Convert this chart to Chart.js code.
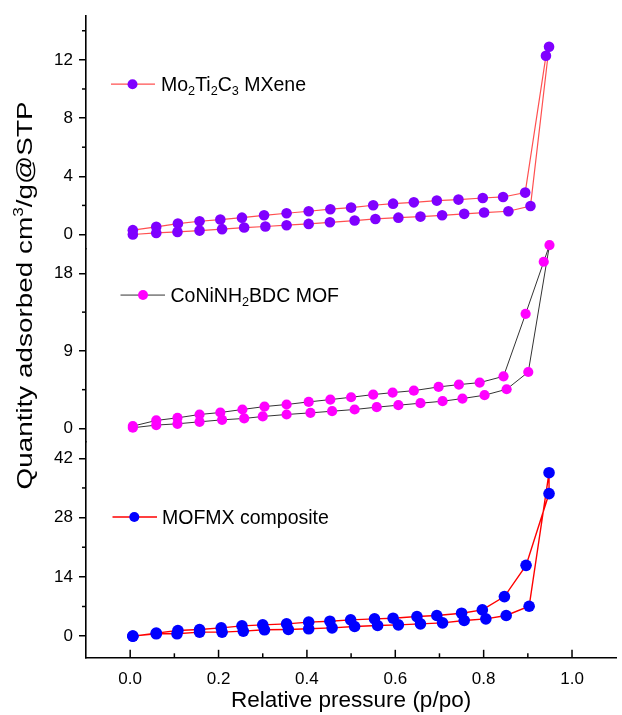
<!DOCTYPE html>
<html>
<head>
<meta charset="utf-8">
<style>
html,body{margin:0;padding:0;background:#fff;}
canvas{display:block;}
</style>
<script src="https://cdn.jsdelivr.net/npm/chart.js@4.4.1/dist/chart.umd.min.js"></script>
</head>
<body>
<canvas id="c" width="622" height="715"></canvas>
<script>
// ---------- DATA ----------
// Mo2Ti2C3 MXene (top panel)
const mxeneAdsX = [0.006, 0.059, 0.107, 0.157, 0.208, 0.258, 0.306, 0.354, 0.404, 0.452, 0.508, 0.555, 0.607, 0.657, 0.706, 0.756, 0.801, 0.856, 0.906, 0.948];
const mxeneAdsY = [0.00, 0.11, 0.18, 0.27, 0.37, 0.48, 0.55, 0.64, 0.73, 0.84, 0.96, 1.07, 1.16, 1.23, 1.32, 1.42, 1.51, 1.60, 1.96, 12.90];
const mxeneDesX = [0.941, 0.894, 0.844, 0.798, 0.743, 0.694, 0.642, 0.595, 0.550, 0.500, 0.453, 0.404, 0.354, 0.303, 0.253, 0.204, 0.157, 0.108, 0.059, 0.006];
const mxeneDesY = [12.28, 2.88, 2.58, 2.51, 2.40, 2.33, 2.21, 2.12, 2.01, 1.85, 1.74, 1.60, 1.46, 1.32, 1.16, 1.03, 0.91, 0.75, 0.53, 0.30];

// CoNiNH2BDC MOF (middle panel)
const mofAdsX = [0.006, 0.059, 0.107, 0.157, 0.208, 0.258, 0.300, 0.354, 0.408, 0.457, 0.508, 0.558, 0.607, 0.657, 0.707, 0.752, 0.802, 0.852, 0.901, 0.949];
const mofAdsY = [0.08, 0.39, 0.54, 0.77, 1.00, 1.16, 1.39, 1.62, 1.81, 2.00, 2.20, 2.47, 2.70, 2.93, 3.16, 3.47, 3.86, 4.55, 6.55, 21.28];
const mofDesX = [0.936, 0.895, 0.845, 0.791, 0.744, 0.698, 0.642, 0.594, 0.550, 0.500, 0.453, 0.404, 0.354, 0.304, 0.254, 0.204, 0.157, 0.107, 0.059, 0.006];
const mofDesY = [19.35, 13.30, 6.05, 5.32, 5.09, 4.82, 4.39, 4.16, 3.93, 3.62, 3.35, 3.08, 2.78, 2.54, 2.20, 1.85, 1.62, 1.23, 0.93, 0.27];

// MOFMX composite (bottom panel)
const compAdsX = [0.006, 0.059, 0.106, 0.157, 0.208, 0.256, 0.304, 0.358, 0.404, 0.457, 0.508, 0.560, 0.607, 0.657, 0.707, 0.756, 0.805, 0.851, 0.903, 0.948];
const compAdsY = [0.00, 0.55, 0.55, 0.94, 0.94, 1.18, 1.49, 1.57, 1.73, 1.96, 2.28, 2.51, 2.67, 2.90, 3.14, 3.69, 4.08, 4.87, 7.06, 38.60];
const compDesX = [0.948, 0.896, 0.847, 0.797, 0.750, 0.694, 0.649, 0.595, 0.553, 0.499, 0.452, 0.404, 0.354, 0.300, 0.253, 0.206, 0.157, 0.108, 0.059, 0.006];
const compDesY = [33.67, 16.72, 9.34, 6.20, 5.42, 4.87, 4.63, 4.24, 4.08, 3.85, 3.53, 3.30, 2.90, 2.67, 2.43, 1.96, 1.57, 1.33, 0.71, 0.00];

// tick labels
const xMajor = [0, 0.2, 0.4, 0.6, 0.8, 1.0];
const xMinor = [0.1, 0.3, 0.5, 0.7, 0.9];
const y1Major = [0, 4, 8, 12];
const y1Minor = [2, 6, 10, 14];
const y2Major = [0, 9, 18];
const y2Minor = [4.5, 13.5];
const y3Major = [0, 14, 28, 42];
const y3Minor = [7, 21, 35];

// ---------- HELPERS ----------
const FONT = "'Liberation Sans', Arial, sans-serif";
function loop(ax, ay, dx, dy) {
  const pts = [];
  ax.forEach((x, i) => pts.push({x: x, y: ay[i]}));
  dx.forEach((x, i) => pts.push({x: x, y: dy[i]}));
  return pts;
}

function yScale(min, max, weight, major) {
  return {
    type: 'linear', position: 'left', stack: 'panels', stackWeight: weight,
    min: min, max: max,
    grid: {display: true, drawOnChartArea: false, drawTicks: true, tickLength: 7, color: '#000', lineWidth: 1.5},
    border: {display: true, color: '#000', width: 1.6},
    ticks: {font: {family: FONT, size: 17}, color: '#000', padding: 6, autoSkip: false, callback: v => String(v)},
    afterBuildTicks: s => { s.ticks = major.map(v => ({value: v})); },
    afterFit: s => { s.width = 86; }
  };
}

const legendItems = [
  {scale: 'y1', parts: [['Mo',0],['2',1],['Ti',0],['2',1],['C',0],['3',1],[' MXene',0]],
   line: '#ff5050', lw: 1.2, marker: '#7f00ff', x0: 25, x1: 69, mx: 46.5, tx: 75, dy: 68},
  {scale: 'y2', parts: [['CoNiNH',0],['2',1],['BDC MOF',0]],
   line: '#333333', lw: 1, marker: '#ff00ff', x0: 34.5, x1: 79, mx: 57, tx: 84.5, dy: 46},
  {scale: 'y3', parts: [['MOFMX composite',0]],
   line: '#ff0000', lw: 1.4, marker: '#0000ff', x0: 26.5, x1: 71, mx: 48.3, tx: 76, dy: 75.7}
];

const decorPlugin = {
  id: 'decor',
  afterDraw(chart) {
    const ctx = chart.ctx;
    ctx.save();
    // minor ticks on y axes (outward)
    ctx.strokeStyle = '#000';
    ctx.lineWidth = 1.5;
    [['y1', y1Minor], ['y2', y2Minor], ['y3', y3Minor]].forEach(([id, vals]) => {
      const s = chart.scales[id];
      vals.forEach(v => {
        const y = s.getPixelForValue(v);
        ctx.beginPath(); ctx.moveTo(s.right, y); ctx.lineTo(s.right - 4, y); ctx.stroke();
      });
    });
    // x ticks (inward)
    const xs = chart.scales.x;
    const yb = xs.top;
    xMajor.forEach(v => {
      const x = xs.getPixelForValue(v);
      ctx.beginPath(); ctx.moveTo(x, yb); ctx.lineTo(x, yb - 7.5); ctx.stroke();
    });
    xMinor.forEach(v => {
      const x = xs.getPixelForValue(v);
      ctx.beginPath(); ctx.moveTo(x, yb); ctx.lineTo(x, yb - 4); ctx.stroke();
    });

    // y axis title
    const fs = 22.5;
    const pre = 'Quantity adsorbed cm', sup = '3', post = '/g@STP';
    ctx.font = fs + 'px ' + FONT;
    const w1 = ctx.measureText(pre).width, w3 = ctx.measureText(post).width;
    ctx.font = (fs * 0.62) + 'px ' + FONT;
    const w2 = ctx.measureText(sup).width;
    const total = w1 + w2 + w3;
    const targetLen = 388;
    const sx = targetLen / total;
    ctx.translate(31.5, 295.5);
    ctx.rotate(-Math.PI / 2);
    ctx.scale(sx, 1);
    ctx.fillStyle = '#000';
    ctx.textBaseline = 'alphabetic';
    ctx.textAlign = 'left';
    let cx = -total / 2;
    ctx.font = fs + 'px ' + FONT;
    ctx.fillText(pre, cx, 0); cx += w1;
    ctx.font = (fs * 0.62) + 'px ' + FONT;
    ctx.fillText(sup, cx, -fs * 0.38); cx += w2;
    ctx.font = fs + 'px ' + FONT;
    ctx.fillText(post, cx, 0);
    ctx.restore();

    // legends
    const left = chart.chartArea.left;
    const lfs = 19.5;
    legendItems.forEach(it => {
      const s = chart.scales[it.scale];
      const y = s.top + it.dy;
      ctx.save();
      ctx.strokeStyle = it.line; ctx.lineWidth = it.lw;
      ctx.beginPath(); ctx.moveTo(left + it.x0, y); ctx.lineTo(left + it.x1, y); ctx.stroke();
      ctx.fillStyle = it.marker;
      ctx.beginPath(); ctx.arc(left + it.mx, y, 5, 0, Math.PI * 2); ctx.fill();
      ctx.fillStyle = '#000';
      ctx.textBaseline = 'alphabetic'; ctx.textAlign = 'left';
      let x = left + it.tx;
      const base = y + lfs * 0.36;
      it.parts.forEach(([t, sub]) => {
        const size = sub ? lfs * 0.65 : lfs;
        ctx.font = size + 'px ' + FONT;
        ctx.fillText(t, x, sub ? base + lfs * 0.2 : base);
        x += ctx.measureText(t).width;
      });
      ctx.restore();
    });
  }
};

function ds(data, lineColor, lw, markerColor, r, yId) {
  return {
    data: data, yAxisID: yId, showLine: true,
    borderColor: lineColor, borderWidth: lw,
    backgroundColor: markerColor,
    pointBackgroundColor: markerColor, pointBorderColor: markerColor, pointBorderWidth: 0,
    pointRadius: r, pointHoverRadius: r, tension: 0, clip: false
  };
}

new Chart(document.getElementById('c'), {
  type: 'scatter',
  data: {
    datasets: [
      ds(loop(mxeneAdsX, mxeneAdsY, mxeneDesX, mxeneDesY), '#ff5050', 1.2, '#7f00ff', 5.3, 'y1'),
      ds(loop(mofAdsX, mofAdsY, mofDesX, mofDesY), '#333333', 1, '#ff00ff', 5.1, 'y2'),
      ds(loop(compAdsX, compAdsY, compDesX, compDesY), '#ff0000', 1.4, '#0000ff', 5.8, 'y3')
    ]
  },
  options: {
    responsive: false, animation: false,
    layout: {padding: {top: 14, right: 0, left: 0, bottom: 0}},
    plugins: {legend: {display: false}, tooltip: {enabled: false}},
    scales: {
      x: {
        type: 'linear', position: 'bottom', min: -0.1, max: 1.1,
        grid: {display: false},
        border: {display: true, color: '#000', width: 1.6},
        ticks: {font: {family: FONT, size: 17}, color: '#000', padding: 4, autoSkip: false, maxRotation: 0,
                callback: v => Number(v).toFixed(1)},
        afterBuildTicks: s => { s.ticks = xMajor.map(v => ({value: v})); },
        afterFit: s => { s.height = 57.7; },
        title: {display: true, text: 'Relative pressure (p/po)', color: '#000',
                font: {family: FONT, size: 22.5, lineHeight: 1.2}, padding: {top: 0, bottom: 1}}
      },
      y3: yScale(-5, 46, 216.6, y3Major),
      y2: yScale(-1.5, 20.82, 192.9, y2Major),
      y1: yScale(-1, 15, 233.6, y1Major)
    }
  },
  plugins: [decorPlugin]
});
</script>
</body>
</html>
